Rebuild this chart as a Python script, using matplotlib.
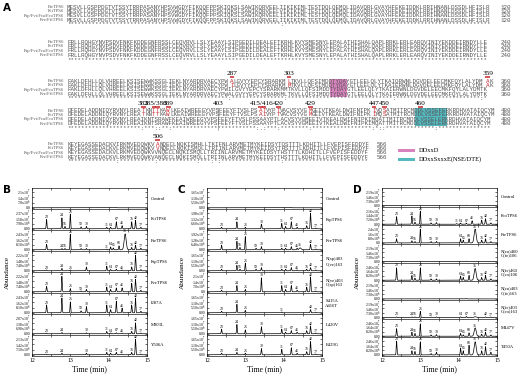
import numpy as np
import matplotlib
matplotlib.use('Agg')
import matplotlib.pyplot as plt
from matplotlib.patches import Rectangle

plt.rcParams['font.family'] = ['Liberation Serif', 'DejaVu Sans']
plt.rcParams['mathtext.fontset'] = 'stix'

# ##############################################################################
# panel A : alignment
seq_names = ['FfeTPS6', 'FciTPS6', 'Fsp/Fvi/Fca/FcoTPS6', 'Fve/FfiTPS6']

blk1 = ['MESVLLGSPPDGTVTSSYTRRPASANYHPSVWGDYFIKQQFPPSKIQKSLSAWIKQRVEELIIKIKIMLTESTDQLQEMQLIDAVQRLGVAYHFEKEIDDKLRRIHNANLDSSDLHFISLR',
        'MESVLLGSPPDGTVTSSYTRRPASANYHPSVWGDYFIKQQFPPSKIQKSLSAWIKQRVEELVIKIKIMLTESTDQLQEMQLIDAVQRLGVAYHFEKEIDDKLRRIHNANLDSSDLHFISLR',
        'MESVLLGSPPDGTVTSSYTRRPASANYHPSVWGDYFIKQQFPPSKIQKSLSAWIKQRVEELIIKIKIMLTESTDQLQEMQLIDAVQRLGVAYHFEKEIDDKLRRIHNANLDSSDLHFISLR',
        'MESVLLGSPPDGTVTSSYTRRPASANYHPSVWGDYFIKQQFPPSKIQKSLSAWIKQRVEELIIKIKIMLTESTDQLQEMQLIDAVQRLGVAYHFEKEIDDKLRRIHNANLDSSDLHFISLR']
blk2 = ['FRLLRQHGYNVPSDVFNKFKDDEGNFRSSLCEQVRVLLSLYEAAYLSIPGEDILDEALEFTKRHLKVYSMESNYLEPALATHISHALQAPLRRKLERLEARQVINIYEKDDEIRNDYLLE'] * 4
blk3 = ['FAKLDFHLLQLVHREELKSISEWWKSSGLIEKLNYARDRVAECYPWALGVYYEPCYSRARKMLTKVLLQFSIMDDTYDAYGTLEELQLYTKAIQRWNLDGVDELEECMKFQYLALYDMAK',
        'FAKLDFHLLQLVHREELKSISEWWKSSGLIEKLNYARDRVAECYPWILGVYYEPCYSRARKMMTKVLLQFSIMDDTYDAYGTLEELQLYTKAIERWNLDGVDELEECMKFQYLALYDMAK',
        'FAKLDFHLLQLVHREELKSISEWWKSSGLIEKLNYARDRVAECYPWILGVYYEPCYSRARKMMTKVLLQFSIMDDTYDAYGTLEELQLYTKAIERWNLDGVDELEECMKFQYLALYDMTK',
        'FAKLDFHLLQLVHREELKSISEWWKSSGLIEKLNYARDRVAECYPWALGVYYEPCYSRARKMLTKVLLQFSIMDDTYDAYGTLEELQLYTKAIERWNLDGVDELEECMKFQYLALYDMTK']
blk4 = ['DFEDELADDNIQYRVNYLREATKNTTKAWLKEAIWREEGYVPSFEEYFTVSLPSATVYPTVACVSYVGMGEIVTKEALDWIFNIPKIVQSATMITRCMDDLVSSEFERKRDHVATAIQCYM',
        'DFEDELADDNIQYRVNYLREATKNTTKAWLKEAIWREEGYVPSFEEYFTVSLPSAIVYPTVACVSYVGMGEIVTKEALDWIFNIPKIMQSATMITRCMDDLVSSEFERKRDHVATAIQCYM',
        'DFEDELADDNIQYRVNYLREAIKNTSRAWFKEAIWREEGYVPSFEEYFTVSLPSSAAYPTLACVSYVGMEEIVTKEALDWIFNIPKIMQATTMITRCMDDLVSSELERKRDHVATAIQCYM',
        'DFEDELADDNIQYRVNYLREAIKNTSRAWFKEAIWREEGYVPSFEEYFTVSLPSSAAYPTLACVSYVGMEEIVTKEALDWIFNIPKIMQATTMITRCMDDLVSSELERKRDHVATAIQCYM']
blk5 = ['KEYEGASSEDACKVIRKMVEDQWKVANQECLNQKISMHLLTKIFNLARVMETMYKEIDSYTQSTTTLKDHITLLFVEPISFEDDYF',
        'KEYEGASSEDACKVLRKMVEDQWKVVNQECLNQKISMQLLTRIINLARVMETMYKEIDSYTHSTTTLKDHITLLFVEPISFEDDYF',
        'KEYEGASSEDACKVLRKMVEDQWKVVNQECLNQKISMQLLTRIINLARVMETMYKEIDSYTHSTTTLKDHITLLFVEPISFEDDYF',
        'KEYEGASSEDACKVLRKMVEDQWKVANQECLNQKISMQLLTRIINLARVMETMYKEIDSYTHSTTTLKDHITLLFVEPISFEDDYF']
blocks = [blk1, blk2, blk3, blk4, blk5]
block_start = [1, 121, 241, 361, 481]
block_end = ['120', '240', '360', '480', '566']

# marked sites (label text, residues underlined)
sites3 = [('287', [287]), ('303', [303]), ('359', [359])]
sites4 = [('382', [382]), ('385/386', [385, 386]), ('389', [389]), ('403', []),
          ('415/416', [415, 416]), ('420', [420]), ('429', [429]),
          ('447', [447]), ('450', [450]), ('460', [460])]
sites5 = [('506', [506])]
sites = {2: sites3, 3: sites4, 4: sites5}
motif_ddxxd = (2, 315, 319)
motif_nse = (3, 459, 467)

# ##############################################################################
# panels B-D : chromatograms
peak_ids = [23, 24, 56, 25, 59, 30, 31, 64, 65, 67, 68, 41, 36, 76, 42, 77]
peak_times = [12.38, 12.78, 12.86, 13.00, 13.28, 13.42, 13.95, 14.05, 14.12,
              14.20, 14.27, 14.35, 14.43, 14.60, 14.70, 14.84]
peak_widths = [0.009] * 12 + [0.026] + [0.009] * 3

bump = [0, 0, 0, 0, 0, 0, 0, 0, 0, 0.03, 0, 0, 0, 0, 0, 0]

b_names = ['Control', 'FciTPS6', 'FfeTPS6', 'FspTPS6', 'FveTPS6', 'I287A', 'M303L', 'Y506A']
b_ymax = [2.1e7, 2.37e7, 2.43e7, 2.22e7, 2.22e7, 2.43e7, 2.07e7, 2.13e7]
b_ndig = [1, 2, 2, 2, 2, 2, 2, 2]
b_heights = [
    bump,
    [.60, .70, .15, .95, .12, .15, .10, .10, 0, .45, 0, .20, 0, .45, .55, .10],
    [.35, .08, .08, 1.0, .08, .08, .04, .18, .12, 0, .25, 0, 1.02, .15, .30, .10],
    [.05, .15, 0, .05, 0, .25, .30, .08, 0, .10, 0, .05, 0, .25, 1.0, .08],
    [.35, 1.0, 0, .20, .05, .15, .30, .15, 0, .25, 0, .25, 0, .55, .80, .10],
    [.50, .95, 0, .70, .12, .40, .50, .20, 0, .75, 0, .30, 0, .50, .95, .10],
    [.04, .08, 0, 0, 0, .06, .15, .05, 0, .06, 0, .04, 0, .15, .70, .05],
    [.04, .10, 0, 0, 0, .10, .15, .10, 0, .15, 0, .04, 0, .15, 1.0, .05]]

c_names = ['Control', 'FspTPS6', 'FveTPS6', 'N(sp)403\nC(ve)163', 'N(ve)403\nC(sp)163',
           'S415A\nA416T', 'L420V', 'E429G']
c_ymax = [1.65e7, 1.98e7, 1.92e7, 1.65e7, 2.1e7, 1.65e7, 1.65e7, 1.65e7]
c_ndig = [2, 2, 2, 2, 1, 2, 2, 2]
c_heights = [
    bump,
    [.10, .45, 0, .10, 0, .30, .35, .15, 0, .45, 0, .10, 0, .20, 1.0, .05],
    [.30, .55, .15, .85, .10, .20, .10, .10, 0, .20, 0, .10, .12, 0, .35, .05],
    [.10, .35, .10, .50, .10, .20, .10, .10, 0, .20, 0, .05, 0, .10, .20, .05],
    [.10, .40, 0, .15, 0, .90, .40, .15, 0, .40, 0, .10, 0, .30, .95, .05],
    [.10, .55, 0, .15, 0, 0, .05, 0, 0, 0, 0, 0, 0, 0, .20, .04],
    [.30, .60, 0, .25, 0, .45, .30, .10, 0, .20, 0, .10, 0, .20, .50, .05],
    [.10, .15, 0, .10, 0, .40, .35, 0, 0, .45, 0, .10, 0, .20, .85, .05]]

d_names = ['Control', 'FcoTPS6', 'FfeTPS6', 'N(co)460\nC(fe)106', 'N(fe)460\nC(co)106',
           'N(co)403\nC(fe)163', 'N(fe)403\nC(co)163', 'M447V', 'T450A']
d_ymax = [2.19e7, 2.16e7, 2.4e7, 2.19e7, 2.46e7, 2.19e7, 2.19e7, 2.46e7, 2.46e7]
d_ndig = [2, 2, 1, 2, 2, 2, 2, 2, 2]
d_heights = [
    bump,
    [.55, .60, .15, .95, .10, .12, .05, .08, 0, .08, 0, .25, 0, .30, .40, .10],
    [.30, .15, .10, 1.0, .10, .10, 0, .30, .20, 0, .30, 0, 1.0, .20, .30, .10],
    bump,
    [.90, .35, .15, .90, .10, .10, 0, .30, .20, 0, .35, 0, .85, .20, .35, .10],
    bump,
    [.05, .05, .05, .45, .04, .05, 0, .05, 0, .08, 0, 0, .06, 0, .05, .04],
    [.55, .30, .20, .90, .10, .12, 0, .20, .10, 0, .25, 0, .60, .15, .30, .10],
    [1.0, .30, .25, .95, .10, .20, 0, .50, .30, 0, .70, 0, .95, .30, .60, .20]]

# ##############################################################################
W, H = 520, 374
fig = plt.figure(figsize=(W / 100, H / 100), dpi=100)
ax0 = fig.add_axes([0, 0, 1, 1])
ax0.set_xlim(0, W)
ax0.set_ylim(H, 0)
ax0.axis('off')


def fbox(x0, y0, x1, y1):
    return [x0 / W, 1 - y1 / H, (x1 - x0) / W, (y1 - y0) / H]


def consensus(rows):
    n = max(len(r) for r in rows)
    out = ''
    for i in range(n):
        s = set(r[i] if i < len(r) else ' ' for r in rows)
        out += '*' if len(s) == 1 else (':' if len(s) == 2 else '.')
    return out


# alignment text ###############################################################
x0 = 67.0
cw = 3.55
seq_fs = cw / 0.6 * 72 / 100
row_dy = 4.4
block_y = [7, 42, 81, 110.5, 144]
red = '#c8242b'
gray = '#555555'
mono = 'Liberation Mono'

red_res = set()
for bi in sites:
    for lab, res in sites[bi]:
        red_res.update(res)
red_res.discard(460)

for bi, rows in enumerate(blocks):
    y1 = block_y[bi]
    for ri, (name, seq) in enumerate(zip(seq_names, rows)):
        y = y1 + ri * row_dy
        ax0.text(x0 - 3, y, name, ha='right', va='center', fontsize=3.3, color=gray)
        # split row into plain segments and red residues
        seg_start = 0
        for c in range(len(seq) + 1):
            is_red = c < len(seq) and ri < 2 and block_start[bi] + c in red_res
            if c == len(seq) or is_red:
                if c > seg_start:
                    ax0.text(x0 + seg_start * cw, y, seq[seg_start:c], ha='left',
                             va='center', fontsize=seq_fs, family=mono, color=gray)
                if is_red:
                    ax0.text(x0 + (c + 0.5) * cw, y, seq[c], ha='center',
                             va='center', fontsize=seq_fs, family=mono, color=red)
                seg_start = c + 1
        ax0.text(x0 + 121 * cw + 4 if bi < 4 else x0 + len(seq) * cw + 4, y,
                 block_end[bi], ha='left', va='center', fontsize=seq_fs,
                 family=mono, color=gray)
    ax0.text(x0, y1 + 4 * row_dy, consensus(rows), ha='left', va='center',
             fontsize=seq_fs, family=mono, color=gray)

# motif boxes
for (bi, p0, p1), col in [(motif_ddxxd, '#d983be'), (motif_nse, '#55b9c0')]:
    c0 = p0 - block_start[bi]
    ytop = block_y[bi] - 2.4
    ax0.add_patch(Rectangle((x0 + c0 * cw, ytop), (p1 - p0 + 1) * cw, 3 * row_dy + 4.8,
                            color=col, zorder=0, lw=0))

# site labels
for bi in sites:
    ylab = block_y[bi] - 7.5
    for lab, res in sites[bi]:
        if lab == '403':
            c = 403 - block_start[bi]
            xc = x0 + (c + 0.5) * cw
            ax0.plot([xc, xc], [block_y[bi] - 2.5, block_y[bi] + 4 * row_dy + 1.5],
                     color='#999999', lw=0.5, zorder=0)
        else:
            cs = [r - block_start[bi] for r in res]
            xc = x0 + (np.mean(cs) + 0.5) * cw
        ax0.text(xc, ylab, lab, ha='center', va='center', fontsize=5.2, color='black')
        for r in res:
            c = r - block_start[bi]
            ax0.plot([x0 + c * cw - 0.6, x0 + (c + 1) * cw + 0.6], [ylab + 3.6] * 2,
                     color=red, lw=1.1, solid_capstyle='butt')

# legend
ax0.add_patch(Rectangle((398, 148.6), 17, 3.8, color='#d983be', lw=0))
ax0.add_patch(Rectangle((398, 157.6), 17, 3.8, color='#55b9c0', lw=0))
ax0.text(419, 150.5, 'DDxxD', va='center', ha='left', fontsize=4.6)
ax0.text(419, 159.5, 'DDxxSxxxE(NSE/DTE)', va='center', ha='left', fontsize=4.6)

ax0.text(3, 8, 'A', fontsize=7.5, fontweight='bold', family='DejaVu Sans',
         va='center', ha='left')

# chromatograms ################################################################
t = np.linspace(12, 15, 3000)


def fmt_tick(v, nd):
    if v == 0:
        return f'{0:.{nd}f}'
    e = int(np.floor(np.log10(v * 1.0000001)))
    m = v / 10 ** e
    return f'{m:.{nd}f}x10$^{{{e}}}$'


def draw_panel(off, letter, names, ymax, ndig, heights):
    top, bot = 188.0, 356.0
    n = len(names)
    h = (bot - top) / n
    left, right = 32 + off, 147 + off
    for i in range(n):
        ax = fig.add_axes(fbox(left, top + i * h, right, top + (i + 1) * h))
        M = ymax[i]
        y = np.zeros_like(t)
        for hh, tc, w in zip(heights[i], peak_times, peak_widths):
            y += hh * M * np.exp(-0.5 * ((t - tc) / w) ** 2)
        ax.plot(t, y, color='black', lw=0.5)
        last_x = -1
        for hh, tc, pid in zip(heights[i], peak_times, peak_ids):
            if hh >= 0.04:
                yp = y[np.argmin(abs(t - tc))]
                xl = max(tc, last_x + 0.075)
                ax.text(xl, yp + 0.03 * M, str(pid), ha='center', va='bottom',
                        fontsize=2.8)
                last_x = xl
        ax.set_xlim(12, 15)
        ax.set_ylim(-0.08 * M, 1.27 * M)
        yt = [0, M / 3, 2 * M / 3, M]
        ax.set_yticks(yt)
        ax.set_yticklabels([fmt_tick(v, ndig[i]) for v in yt])
        ax.set_xticks([12, 13, 14, 15])
        ax.set_xticks([12.5, 13.5, 14.5], minor=True)
        ax.tick_params(which='both', direction='in', top=True, right=True,
                       length=1.3, width=0.4, labelsize=2.7, pad=1)
        ax.tick_params(axis='x', labelsize=4.2, pad=1.5,
                       labelbottom=(i == n - 1))
        for sp in ax.spines.values():
            sp.set_linewidth(0.45)
        ax.text(1.03, 0.5, names[i], transform=ax.transAxes, ha='left',
                va='center', fontsize=3.3, linespacing=1.1)
    ax0.text((left + right) / 2, 369, 'Time (min)', ha='center', va='center',
             fontsize=5.5)
    ax0.text(off + 7, 272, 'Abundance', ha='center', va='center', rotation=90,
             fontsize=5.2)
    ax0.text(off + 3, 190, letter, fontsize=7.5, fontweight='bold',
             family='DejaVu Sans', va='center', ha='left')


draw_panel(0, 'B', b_names, b_ymax, b_ndig, b_heights)
draw_panel(175, 'C', c_names, c_ymax, c_ndig, c_heights)
draw_panel(350, 'D', d_names, d_ymax, d_ndig, d_heights)

plt.savefig('out.png', dpi=100)
